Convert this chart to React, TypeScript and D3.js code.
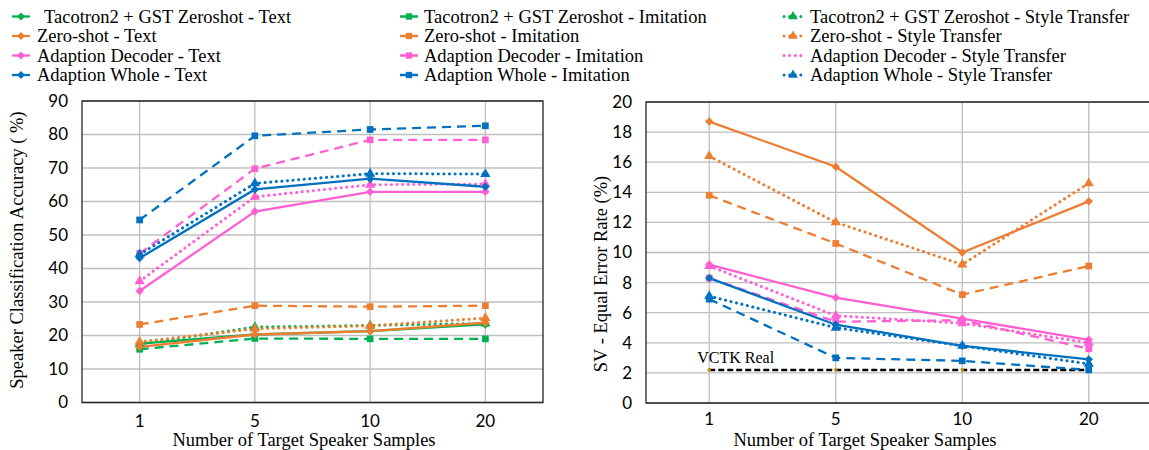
import * as d3 from "d3";

const samples = ["1", "5", "10", "20"];
const systems = ["Tacotron2 + GST Zeroshot", "Zero-shot", "Adaption Decoder", "Adaption Whole"];
const conditions = ["Text", "Imitation", "Style Transfer"];
const colors = ["#00B050", "#ED7D31", "#FF5FD2", "#0070C0"];

// speaker classification accuracy (%)
const accTacotronText = [17.6, 20.3, 21.3, 23.3];
const accTacotronImitation = [15.9, 19.1, 19.0, 19.0];
const accTacotronStyle = [17.4, 22.5, 23.0, 23.6];
const accZeroText = [16.6, 20.3, 21.3, 23.8];
const accZeroImitation = [23.3, 28.9, 28.6, 28.9];
const accZeroStyle = [18.1, 22.0, 22.9, 25.2];
const accDecoderText = [33.3, 57.0, 62.9, 62.9];
const accDecoderImitation = [44.5, 69.8, 78.4, 78.4];
const accDecoderStyle = [36.2, 61.4, 65.0, 65.2];
const accWholeText = [43.1, 63.6, 66.8, 64.4];
const accWholeImitation = [54.5, 79.6, 81.5, 82.6];
const accWholeStyle = [44.2, 65.4, 68.3, 68.2];

// SV equal error rate (%)
const eerZeroText = [18.7, 15.7, 10.0, 13.4];
const eerZeroImitation = [13.8, 10.6, 7.2, 9.1];
const eerZeroStyle = [16.4, 12.0, 9.2, 14.6];
const eerDecoderText = [9.2, 7.0, 5.6, 4.2];
const eerDecoderImitation = [8.3, 5.4, 5.5, 3.6];
const eerDecoderStyle = [9.1, 5.8, 5.3, 4.0];
const eerWholeText = [8.3, 5.2, 3.8, 2.9];
const eerWholeImitation = [6.9, 3.0, 2.8, 2.2];
const eerWholeStyle = [7.1, 5.0, 3.8, 2.6];
const vctkReal = [2.2, 2.2, 2.2, 2.2];

const accTicks = [0, 10, 20, 30, 40, 50, 60, 70, 80, 90];
const eerTicks = [0, 2, 4, 6, 8, 10, 12, 14, 16, 18, 20];

type Series = { sys: number; cond: number; values: number[] };

const accSeries: Series[] = [
  { sys: 0, cond: 0, values: accTacotronText },
  { sys: 0, cond: 1, values: accTacotronImitation },
  { sys: 0, cond: 2, values: accTacotronStyle },
  { sys: 1, cond: 0, values: accZeroText },
  { sys: 1, cond: 1, values: accZeroImitation },
  { sys: 1, cond: 2, values: accZeroStyle },
  { sys: 2, cond: 0, values: accDecoderText },
  { sys: 2, cond: 1, values: accDecoderImitation },
  { sys: 2, cond: 2, values: accDecoderStyle },
  { sys: 3, cond: 0, values: accWholeText },
  { sys: 3, cond: 1, values: accWholeImitation },
  { sys: 3, cond: 2, values: accWholeStyle },
];

const eerSeries: Series[] = [
  { sys: 1, cond: 0, values: eerZeroText },
  { sys: 1, cond: 1, values: eerZeroImitation },
  { sys: 1, cond: 2, values: eerZeroStyle },
  { sys: 2, cond: 0, values: eerDecoderText },
  { sys: 2, cond: 1, values: eerDecoderImitation },
  { sys: 2, cond: 2, values: eerDecoderStyle },
  { sys: 3, cond: 0, values: eerWholeText },
  { sys: 3, cond: 1, values: eerWholeImitation },
  { sys: 3, cond: 2, values: eerWholeStyle },
];

const dashes = [null, "9 6", "0.1 5.5"];
const symbols = [d3.symbolDiamond2, d3.symbolSquare, d3.symbolTriangle];
const serif = "Liberation Serif, DejaVu Serif, serif";
const sans = "Lato, Open Sans, sans-serif";

function Marker({ x, y, cond, color, size = 45 }: any) {
  const path = d3.symbol().type(symbols[cond]).size(size)();
  return <path d={path || ""} transform={`translate(${x},${y})`} fill={color} />;
}

function LinePanel({ series, ticks, left, right, top, bottom, yMax, xTitle, yTitle, titleX, titleY, tickY, vctk }: any) {
  const x = d3.scalePoint().domain(samples).range([left, right]).padding(0.5);
  const y = d3.scaleLinear().domain([0, yMax]).range([bottom, top]);
  const line = d3
    .line<number>()
    .x((_, i) => x(samples[i])!)
    .y((d) => y(d));
  return (
    <g>
      {ticks.map((t: number) => (
        <line key={"h" + t} x1={left} x2={right} y1={y(t)} y2={y(t)} stroke="#BFBFBF" strokeWidth={1.3} />
      ))}
      {samples.map((s) => (
        <line key={"v" + s} x1={x(s)} x2={x(s)} y1={top} y2={bottom} stroke="#BFBFBF" strokeWidth={1.3} />
      ))}
      <path
        d={`M${left},${top}H${right}V${bottom}H${left}Z`}
        fill="none"
        stroke="#262626"
        strokeWidth={1.3}
      />
      {ticks.map((t: number) => (
        <text key={"t" + t} x={left - 14} y={y(t)} dy="0.35em" textAnchor="end" style={{ fontFamily: sans }} fontSize={17} fill="#000">
          {t}
        </text>
      ))}
      {samples.map((s) => (
        <text key={"xt" + s} x={x(s)} y={tickY} dy="0.35em" textAnchor="middle" style={{ fontFamily: sans }} fontSize={17} fill="#000">
          {s}
        </text>
      ))}
      <text x={titleX} y={bottom + 37} dy="0.35em" textAnchor="middle" style={{ fontFamily: serif }} fontSize={18.5}>
        {xTitle}
      </text>
      <text
        transform={`translate(${titleY[0]},${titleY[1]}) rotate(-90)`}
        dy="0.35em"
        textAnchor="middle"
        style={{ fontFamily: serif }}
        fontSize={18.5}
      >
        {yTitle}
      </text>
      {vctk && (
        <g>
          <path d={line(vctk) || ""} fill="none" stroke="#000" strokeWidth={2.5} strokeDasharray="6 3" />
          {vctk.map((v: number, i: number) => (
            <circle key={i} cx={x(samples[i])} cy={y(v)} r={1.8} fill="#BF9000" />
          ))}
          <text x={x(samples[0])! - 12} y={y(vctk[0]) - 12} dy="0.35em" style={{ fontFamily: serif }} fontSize={16}>
            VCTK Real
          </text>
        </g>
      )}
      {series.map((s: Series, k: number) => (
        <path
          key={"l" + k}
          d={line(s.values) || ""}
          fill="none"
          stroke={colors[s.sys]}
          strokeWidth={s.cond === 2 ? 3 : 2.3}
          strokeLinecap={s.cond === 2 ? "round" : "butt"}
          strokeDasharray={dashes[s.cond] || undefined}
        />
      ))}
      {series.map((s: Series, k: number) =>
        s.values.map((v, i) => (
          <Marker key={"m" + k + "-" + i} x={x(samples[i])} y={y(v)} cond={s.cond} color={colors[s.sys]} />
        ))
      )}
    </g>
  );
}

function Legend() {
  const colX = [12, 400, 784];
  const textX = [37, 424, 810];
  const rowY = [16.5, 36, 55.5, 75];
  return (
    <g>
      {conditions.map((c, ci) =>
        systems.map((s, si) => {
          const lx = colX[ci];
          const ly = rowY[si];
          return (
            <g key={c + s}>
              <line
                x1={lx}
                x2={lx + 18}
                y1={ly}
                y2={ly}
                stroke={colors[si]}
                strokeWidth={ci === 2 ? 3 : 2.3}
                strokeLinecap={ci === 2 ? "round" : "butt"}
                strokeDasharray={ci === 1 ? "9 3" : ci === 2 ? "0.1 5.5" : undefined}
              />
              {!(ci === 2 && si === 2) && <Marker x={lx + 9} y={ly} cond={ci} color={colors[si]} size={40} />}
              <text x={textX[ci] + (ci === 0 && si === 0 ? 7 : 0)} y={ly} dy="0.35em" style={{ fontFamily: serif }} fontSize={18.5}>
                {`${s} - ${c}`}
              </text>
            </g>
          );
        })
      )}
    </g>
  );
}

export default function App() {
  return (
    <svg width={1149} height={450} style={{ position: "absolute", left: 0, top: 0, background: "#fff" }}>
      <Legend />
      <LinePanel
        series={accSeries}
        ticks={accTicks}
        left={82}
        right={543}
        top={101}
        bottom={402.5}
        yMax={90}
        xTitle="Number of Target Speaker Samples"
        yTitle="Speaker Classification Accuracy ( %)"
        titleX={304}
        titleY={[17, 250]}
        tickY={421}
        vctk={null}
      />
      <LinePanel
        series={eerSeries}
        ticks={eerTicks}
        left={646}
        right={1152}
        top={102}
        bottom={403}
        yMax={20}
        xTitle="Number of Target Speaker Samples"
        yTitle="SV - Equal Error Rate (%)"
        titleX={865}
        titleY={[601, 274]}
        tickY={419}
        vctk={vctkReal}
      />
    </svg>
  );
}
